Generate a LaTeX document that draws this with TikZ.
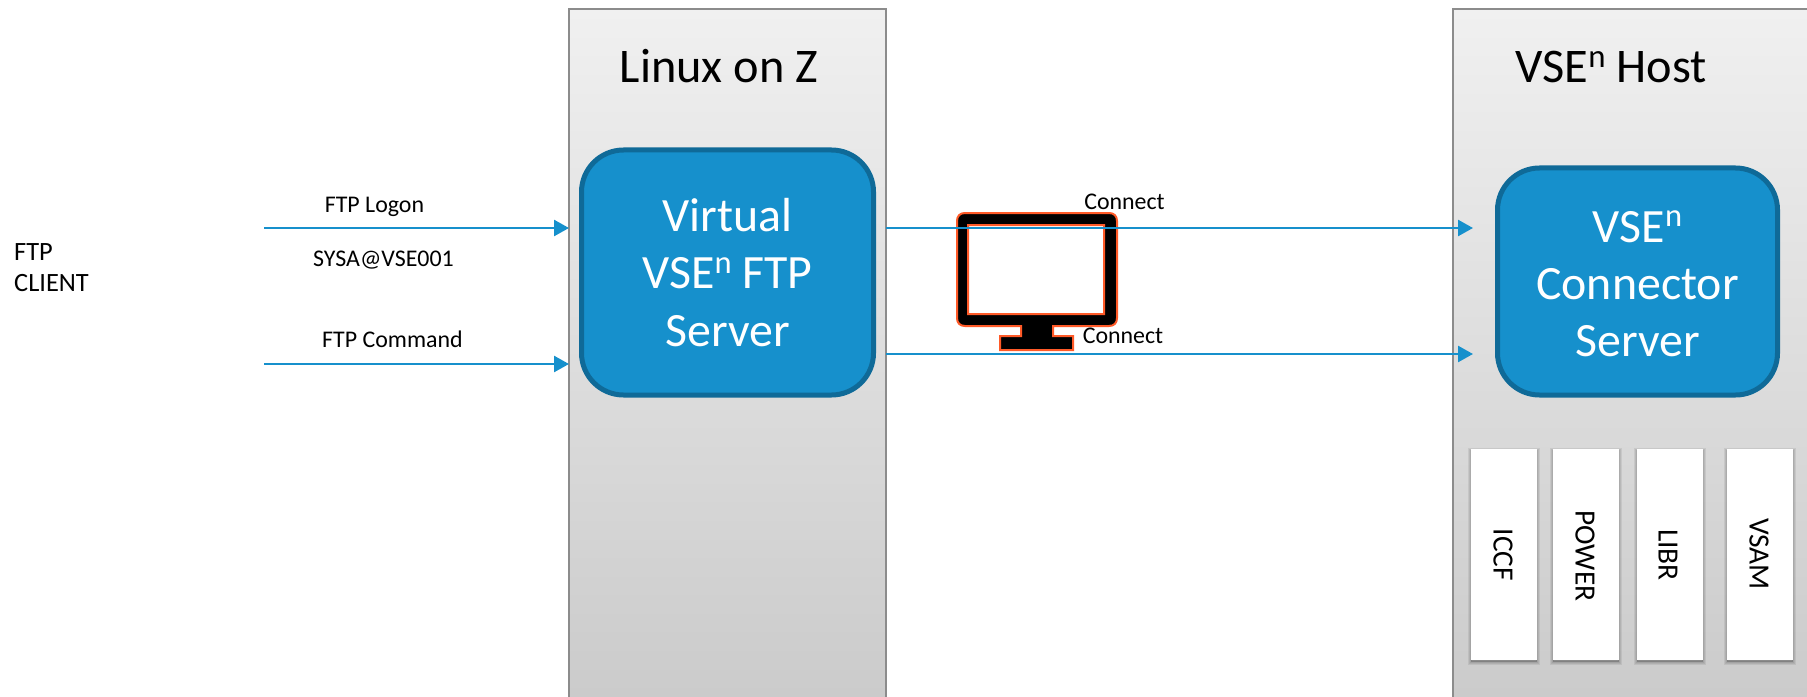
\documentclass[tikz,border=0pt]{standalone}
\usepackage{fontspec}
\setmainfont{Carlito}
\usetikzlibrary{arrows.meta,shadows}
\definecolor{flow}{HTML}{1690CC}
\definecolor{flowdark}{HTML}{0F6A98}
\definecolor{panelline}{HTML}{8C8C8C}
\definecolor{panelhi}{HTML}{F0F0F0}
\definecolor{panello}{HTML}{CBCBCB}
\definecolor{monline}{HTML}{FF5A28}
\newcommand{\supn}{\raisebox{.33em}{\scalebox{.68}{n}}}
\tikzset{
  x=1bp,y=-1bp,
  softlayer/.style={general shadow={shadow xshift=0bp,shadow yshift=-2bp,fill=black,draw=black,line width=#1,opacity=.07}},
  panel/.style={anchor=north west,inner sep=0pt,outer sep=0pt,top color=panelhi,bottom color=panello,draw=none},
  panelrule/.style={draw=panelline,line width=2bp},
  server/.style={anchor=center,rectangle,rounded corners=42bp,fill=flow,draw=flowdark,line width=5bp,inner sep=0pt,outer sep=0pt},
  servertext/.style={anchor=center,inner sep=0pt,text=white,align=center,font=\fontsize{48}{57.5}\selectfont},
  store/.style={anchor=center,rectangle,fill=white,inner sep=0pt,outer sep=0pt,minimum width=66bp,minimum height=211bp,
    softlayer=6bp,softlayer=4bp,softlayer=2bp},
  storetext/.style={rotate=-90,anchor=center,inner sep=0pt,font=\fontsize{29.5}{32}\selectfont},
  title/.style={anchor=base,inner sep=0pt,font=\fontsize{48.5}{56}\selectfont},
  small/.style={anchor=base,inner sep=0pt,font=\fontsize{24}{28}\selectfont},
  clienttext/.style={anchor=base west,inner sep=0pt,font=\fontsize{26.5}{30}\selectfont},
  link/.style={draw=flow,line width=2.5bp,-{Triangle[length=15bp,width=16bp]}},
  monitorshape/.style={fill=black,draw=monline,line width=2bp,even odd rule,line join=miter},
}
\begin{document}
\begin{tikzpicture}
\useasboundingbox (0,0) rectangle (1807,697);
\fill[white] (0,0) rectangle (1807,697);
% panels
\node[panel,minimum width=317bp,minimum height=687.5bp] (linux) at (569,9.5) {};
\draw[panelrule] (linux.south west) -- (linux.north west) -- (linux.north east) -- (linux.south east);
\node[panel,minimum width=354bp,minimum height=687.5bp] (host) at (1453,9.5) {};
\draw[panelrule] (host.south west) -- (host.north west) -- (host.north east);
% titles
\node[title] (linuxtitle) at (719,83) {Linux on Z};
\node[title] (hosttitle) at (1611,83) {VSE\supn{} Host};
% servers
\node[server,minimum width=292bp,minimum height=245bp] (virtual) at (727.5,272.5) {};
\node[servertext] (virtualtext) at (727.5,272.5) {Virtual\\VSE\supn{} FTP\\Server};
\node[server,minimum width=280bp,minimum height=227bp] (connector) at (1637.5,281.5) {};
\node[servertext] (connectortext) at (1637.5,284) {VSE\supn{}\\Connector\\Server};
% stores
\node[store] (iccf) at (1504,554.5) {};
\node[store] (power) at (1586,554.5) {};
\node[store] (libr) at (1669.5,554.5) {};
\node[store] (vsam) at (1760,554.5) {};
\node[storetext] (iccft) at (1503,555) {ICCF};
\node[storetext] (powert) at (1585,556) {POWER};
\node[storetext] (librt) at (1668,555) {LIBR};
\node[storetext] (vsamt) at (1759,554) {VSAM};
% monitor
\draw[monitorshape] (957,221) .. controls (957,216) and (960,213) .. (965,213)
  -- (1109,213) .. controls (1114,213) and (1117,216) .. (1117,221)
  -- (1117,318) .. controls (1117,323) and (1114,326) .. (1109,326)
  -- (1053,326) -- (1053,336) -- (1073,336) -- (1073,350) -- (1000,350) -- (1000,336)
  -- (1021,336) -- (1021,326) -- (965,326) .. controls (960,326) and (957,323) .. (957,318) -- cycle
  (968,225) -- (1104,225) -- (1104,314) -- (968,314) -- cycle;
% connectors
\coordinate (logonstart) at (264,228);
\coordinate (cmdstart) at (264,364);
\coordinate (conn1end) at (1473,228);
\coordinate (conn2end) at (1473,354);
\draw[link] (logonstart) -- (logonstart -| linux.west);
\draw[link] (cmdstart) -- (cmdstart -| linux.west);
\draw[link] (conn1end -| linux.east) -- (conn1end);
\draw[link] (conn2end -| linux.east) -- (conn2end);
% labels
\node[clienttext] (ftp) at (14,260) {FTP};
\node[clienttext] (client) at (14,291) {CLIENT};
\node[small] (logon) at (374.5,212) {FTP Logon};
\node[small] (sysa) at (383.5,266) {SYSA@VSE001};
\node[small] (command) at (392.5,347) {FTP Command};
\node[small] (connect1) at (1124.5,209) {Connect};
\node[small] (connect2) at (1123,343) {Connect};
\end{tikzpicture}
\end{document}
